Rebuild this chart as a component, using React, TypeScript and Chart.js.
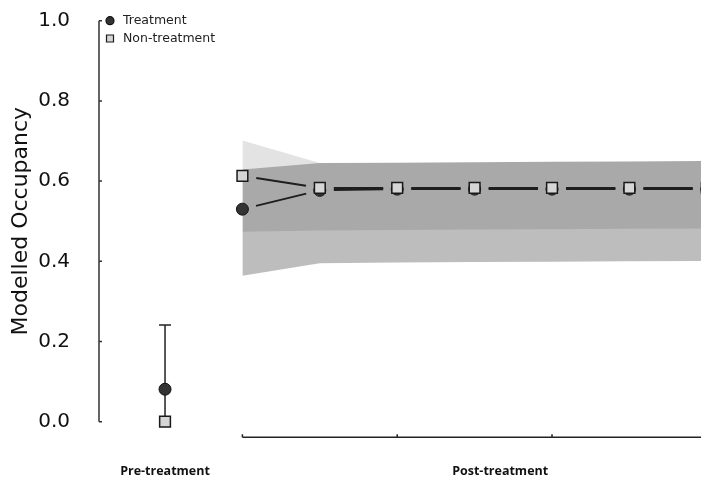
import React, { useEffect, useRef } from "react";
import { Chart, registerables } from "chart.js";

Chart.register(...registerables);

// ---- data ----
const sectionLabels = ["Pre-treatment", "Post-treatment"];
const sectionLabelAt = [0, 4.33];
const preX = [0];
const postX = [1, 2, 3, 4, 5, 6, 7];
const xAxisTickAt = [1, 3, 5, 7];
const yTicks = [0, 0.2, 0.4, 0.6, 0.8, 1.0];

const treatmentPre = [0.081];
const treatmentPreErrLow = [0.0];
const treatmentPreErrHigh = [0.241];
const nonTreatmentPre = [0.0];

const treatmentPost = [0.53, 0.577, 0.58, 0.58, 0.58, 0.58, 0.58];
const nonTreatmentPost = [0.613, 0.583, 0.583, 0.583, 0.583, 0.583, 0.583];

const treatmentLower = [0.364, 0.395, 0.397, 0.398, 0.399, 0.4, 0.401];
const treatmentUpper = [0.629, 0.645, 0.646, 0.647, 0.648, 0.649, 0.65];
const nonTreatmentLower = [0.474, 0.477, 0.478, 0.479, 0.48, 0.481, 0.482];
const nonTreatmentUpper = [0.701, 0.645, 0.646, 0.647, 0.648, 0.649, 0.65];

const pts = (xs: number[], ys: number[]) => xs.map((x, i) => ({ x, y: ys[i] }));

const decorPlugin = {
  id: "decor",
  beforeDatasetsDraw(chart: any) {
    const ctx = chart.ctx;
    const ys = chart.scales.y;
    const xs = chart.scales.x;
    chart.data.datasets.forEach((ds: any, di: number) => {
      if (ds.connectFrom === undefined) return;
      const meta = chart.getDatasetMeta(di);
      const els = meta.data;
      ctx.save();
      ctx.strokeStyle = "#1e1e1e";
      ctx.lineWidth = 2;
      for (let i = ds.connectFrom; i < els.length - 1; i++) {
        const a = els[i];
        const b = els[i + 1];
        const dx = b.x - a.x;
        const dy = b.y - a.y;
        const len = Math.hypot(dx, dy);
        const g = 14 / len;
        ctx.beginPath();
        ctx.moveTo(a.x + dx * g, a.y + dy * g);
        ctx.lineTo(b.x - dx * g, b.y - dy * g);
        ctx.stroke();
      }
      ctx.restore();
    });
    ctx.save();
    ctx.strokeStyle = "#222";
    ctx.lineWidth = 1.5;
    preX.forEach((x, i) => {
      const px = xs.getPixelForValue(x);
      const lo = ys.getPixelForValue(treatmentPreErrLow[i]);
      const hi = ys.getPixelForValue(treatmentPreErrHigh[i]);
      ctx.beginPath();
      ctx.moveTo(px, lo);
      ctx.lineTo(px, hi);
      ctx.moveTo(px - 6, hi);
      ctx.lineTo(px + 6, hi);
      ctx.moveTo(px - 5, lo);
      ctx.lineTo(px + 5, lo);
      ctx.stroke();
    });
    ctx.restore();
  },
  afterDraw(chart: any) {
    const ctx = chart.ctx;
    const ys = chart.scales.y;
    const xs = chart.scales.x;
    const { left, right, top } = chart.chartArea;
    ctx.save();
    ctx.strokeStyle = "#333";
    ctx.lineWidth = 1.5;
    const y0 = ys.getPixelForValue(0);
    const y1 = ys.getPixelForValue(1);
    ctx.beginPath();
    ctx.moveTo(left, y0);
    ctx.lineTo(left, y1);
    yTicks.forEach((v) => {
      const py = ys.getPixelForValue(v);
      ctx.moveTo(left, py);
      ctx.lineTo(left + 3, py);
    });
    ctx.stroke();
    const axisY = y0 + 15.5;
    ctx.strokeStyle = "#222";
    ctx.beginPath();
    ctx.moveTo(xs.getPixelForValue(postX[0]), axisY);
    ctx.lineTo(right, axisY);
    xAxisTickAt.forEach((v) => {
      const px = xs.getPixelForValue(v);
      ctx.moveTo(px, axisY);
      ctx.lineTo(px, axisY - 3);
    });
    ctx.stroke();
    ctx.fillStyle = "#111";
    ctx.font = "bold 12.5px 'Open Sans'";
    ctx.textAlign = "center";
    ctx.textBaseline = "middle";
    sectionLabels.forEach((t, i) => {
      ctx.fillText(t, xs.getPixelForValue(sectionLabelAt[i]), axisY + 34);
    });
    const items = chart.data.datasets.filter((d: any) => d.legendItem);
    ctx.font = "12.5px 'DejaVu Sans'";
    ctx.textAlign = "left";
    items.forEach((d: any, i: number) => {
      const cx = left + 11;
      const cy = top + i * 17.8;
      ctx.fillStyle = d.backgroundColor;
      ctx.strokeStyle = d.borderColor;
      ctx.lineWidth = 1.2;
      ctx.beginPath();
      if (d.pointStyle === "rect") {
        ctx.rect(cx - 3.5, cy - 3.5, 7, 7);
      } else {
        ctx.arc(cx, cy, 4, 0, Math.PI * 2);
      }
      ctx.fill();
      ctx.stroke();
      ctx.fillStyle = "#222";
      ctx.fillText(d.label, cx + 13, cy + 0.5);
    });
    ctx.restore();
  },
};

export default function App() {
  const ref = useRef<HTMLCanvasElement | null>(null);
  useEffect(() => {
    if (!ref.current) return;
    const band = (data: number[], fill: any, color: string) => ({
      type: "line",
      data: pts(postX, data),
      borderWidth: 0,
      pointRadius: 0,
      pointHoverRadius: 0,
      tension: 0,
      fill,
      backgroundColor: color,
      order: 5,
    });
    const chart = new Chart(ref.current, {
      type: "line",
      data: {
        datasets: [
          band(nonTreatmentUpper, "+1", "rgba(0,0,0,0.11)"),
          band(nonTreatmentLower, false, "rgba(0,0,0,0)"),
          band(treatmentUpper, "+1", "rgba(0,0,0,0.26)"),
          band(treatmentLower, false, "rgba(0,0,0,0)"),
          {
            label: "Treatment",
            data: [...pts(preX, treatmentPre), ...pts(postX, treatmentPost)],
            showLine: false,
            clip: false,
            pointStyle: "circle",
            pointRadius: 6,
            pointHoverRadius: 6,
            backgroundColor: "#333333",
            borderColor: "#111111",
            borderWidth: 1,
            order: 2,
            connectFrom: 1,
            legendItem: true,
          } as any,
          {
            label: "Non-treatment",
            data: [...pts(preX, nonTreatmentPre), ...pts(postX, nonTreatmentPost)],
            showLine: false,
            clip: false,
            pointStyle: "rect",
            pointRadius: 7.6,
            pointHoverRadius: 7.6,
            backgroundColor: "#d6d6d6",
            borderColor: "#1a1a1a",
            borderWidth: 1.5,
            order: 1,
            connectFrom: 1,
            legendItem: true,
          } as any,
        ],
      },
      options: {
        responsive: false,
        animation: false,
        events: [],
        layout: { autoPadding: false, padding: { left: 8.3, top: 20.7, right: 0, bottom: 61.3 } },
        plugins: {
          legend: { display: false },
          tooltip: { enabled: false },
          filler: { drawTime: "beforeDatasetsDraw" } as any,
        },
        scales: {
          x: { type: "linear", min: -0.853, max: 6.925, display: false },
          y: {
            min: 0,
            max: 1,
            afterBuildTicks: (s: any) => {
              s.ticks = yTicks.map((v) => ({ value: v }));
            },
            afterFit: (s: any) => {
              s.width = 90.7;
              s.paddingTop = 0;
              s.paddingBottom = 0;
            },
            ticks: {
              font: { family: "DejaVu Sans", size: 20 },
              color: "#111",
              padding: 29,
              callback: (v: any) => Number(v).toFixed(1),
            },
            grid: { display: false, drawTicks: false },
            border: { display: false },
            title: {
              display: true,
              text: "Modelled Occupancy",
              font: { family: "DejaVu Sans", size: 22 },
              color: "#111",
              padding: { top: 0, bottom: 3.3 },
            },
          },
        },
      },
      plugins: [decorPlugin],
    } as any);
    return () => chart.destroy();
  }, []);
  return (
    <div style={{ position: "absolute", left: 0, top: 0, width: 701, height: 483 }}>
      <canvas ref={ref} width={701} height={483} style={{ display: "block" }} />
    </div>
  );
}
